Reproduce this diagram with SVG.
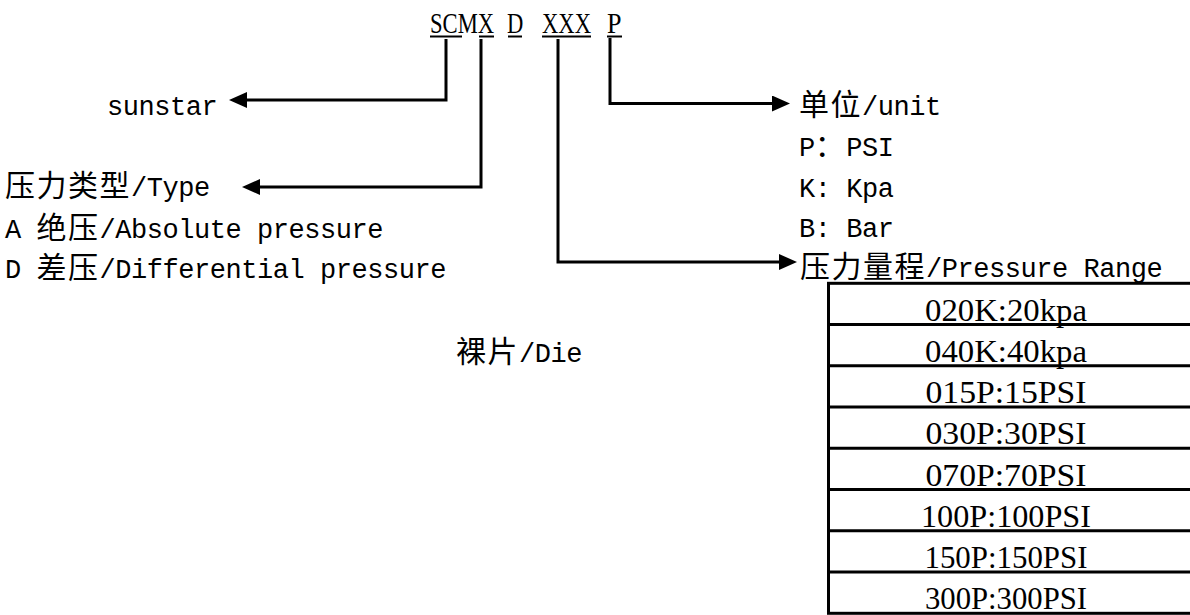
<svg xmlns="http://www.w3.org/2000/svg" width="1190" height="615" viewBox="0 0 1190 615">
<style>
.m{font-family:"Liberation Mono","DejaVu Sans Mono",monospace;font-size:27px;letter-spacing:-0.45px;fill:#000}
.c{font-family:"Noto Sans CJK SC","Noto Sans CJK JP",sans-serif;font-size:30px;letter-spacing:1.5px;fill:#000}
.t{font-family:"Liberation Serif","Times New Roman",serif;font-size:29px;fill:#000}
.r{font-family:"Liberation Serif","Times New Roman",serif;font-size:31px;fill:#000;text-anchor:middle}
.ln{fill:none;stroke:#000;stroke-width:3}
.ul{stroke:#000;stroke-width:2}
</style>
<defs>
<marker id="ah" markerUnits="userSpaceOnUse" markerWidth="18" markerHeight="16" refX="9" refY="8" orient="auto">
<path d="M0,0 L18,8 L0,16 z" fill="#000"/>
</marker>
</defs>
<rect width="1190" height="615" fill="#fff"/>

<g id="code">
<text class="t" transform="translate(430,33) scale(0.78,1)" x="0" y="0">SCMX</text>
<text class="t" transform="translate(507,33) scale(0.78,1)" x="0" y="0">D</text>
<text class="t" transform="translate(542,33) scale(0.78,1)" x="0" y="0">XXX</text>
<text class="t" transform="translate(607,33) scale(0.9,1)" x="0" y="0">P</text>
<line class="ul" x1="430" y1="36.5" x2="462" y2="36.5"/>
<line class="ul" x1="479" y1="36.5" x2="494" y2="36.5"/>
<line class="ul" x1="508" y1="36.5" x2="522" y2="36.5"/>
<line class="ul" x1="542" y1="36.5" x2="591" y2="36.5"/>
<line class="ul" x1="607" y1="36.5" x2="622" y2="36.5"/>
</g>

<g id="connectors">
<path class="ln" d="M446,39 V100 H238" marker-end="url(#ah)"/>
<path class="ln" d="M481,39 V187 H251" marker-end="url(#ah)"/>
<path class="ln" d="M558,39 V262 H788" marker-end="url(#ah)"/>
<path class="ln" d="M610,38 V103.5 H781" marker-end="url(#ah)"/>
</g>

<g id="sunstar">
<text class="m" x="107" y="115">sunstar</text>
</g>

<g id="type">
<text y="196"><tspan class="c" x="5">压力类型</tspan><tspan class="m" x="131">/Type</tspan></text>
<text y="238"><tspan class="m" x="5">A</tspan><tspan class="c" x="36.5">绝压</tspan><tspan class="m" x="99.5">/Absolute pressure</tspan></text>
<text y="278"><tspan class="m" x="5">D</tspan><tspan class="c" x="36.5">差压</tspan><tspan class="m" x="99.5">/Differential pressure</tspan></text>
</g>

<g id="unit">
<text y="115"><tspan class="c" x="799">单位</tspan><tspan class="m" x="862">/unit</tspan></text>
<text y="156"><tspan class="m" x="799">P</tspan><tspan class="c" x="814.75">：</tspan><tspan class="m" x="846.25">PSI</tspan></text>
<text class="m" x="799" y="197">K: Kpa</text>
<text class="m" x="799" y="237">B: Bar</text>
</g>

<g id="die">
<text y="362"><tspan class="c" x="456">裸片</tspan><tspan class="m" x="519">/Die</tspan></text>
</g>

<g id="range">
<text y="277"><tspan class="c" x="800">压力量程</tspan><tspan class="m" x="926">/Pressure Range</tspan></text>
<rect class="ln" x="828.5" y="283.3" width="400" height="330"/>
<line class="ln" x1="828.5" y1="324.55" x2="1200" y2="324.55"/>
<line class="ln" x1="828.5" y1="365.8" x2="1200" y2="365.8"/>
<line class="ln" x1="828.5" y1="407.05" x2="1200" y2="407.05"/>
<line class="ln" x1="828.5" y1="448.3" x2="1200" y2="448.3"/>
<line class="ln" x1="828.5" y1="489.55" x2="1200" y2="489.55"/>
<line class="ln" x1="828.5" y1="530.8" x2="1200" y2="530.8"/>
<line class="ln" x1="828.5" y1="572.05" x2="1200" y2="572.05"/>
<text class="r" x="1006" y="320.5" textLength="162" lengthAdjust="spacingAndGlyphs">020K:20kpa</text>
<text class="r" x="1006" y="361.75" textLength="162" lengthAdjust="spacingAndGlyphs">040K:40kpa</text>
<text class="r" x="1006" y="403" textLength="161" lengthAdjust="spacingAndGlyphs">015P:15PSI</text>
<text class="r" x="1006" y="444.25" textLength="161" lengthAdjust="spacingAndGlyphs">030P:30PSI</text>
<text class="r" x="1006" y="485.5" textLength="161" lengthAdjust="spacingAndGlyphs">070P:70PSI</text>
<text class="r" x="1006" y="526.75" textLength="170" lengthAdjust="spacingAndGlyphs">100P:100PSI</text>
<text class="r" x="1006" y="568" textLength="163" lengthAdjust="spacingAndGlyphs">150P:150PSI</text>
<text class="r" x="1006" y="609.25" textLength="162" lengthAdjust="spacingAndGlyphs">300P:300PSI</text>
</g>
</svg>
